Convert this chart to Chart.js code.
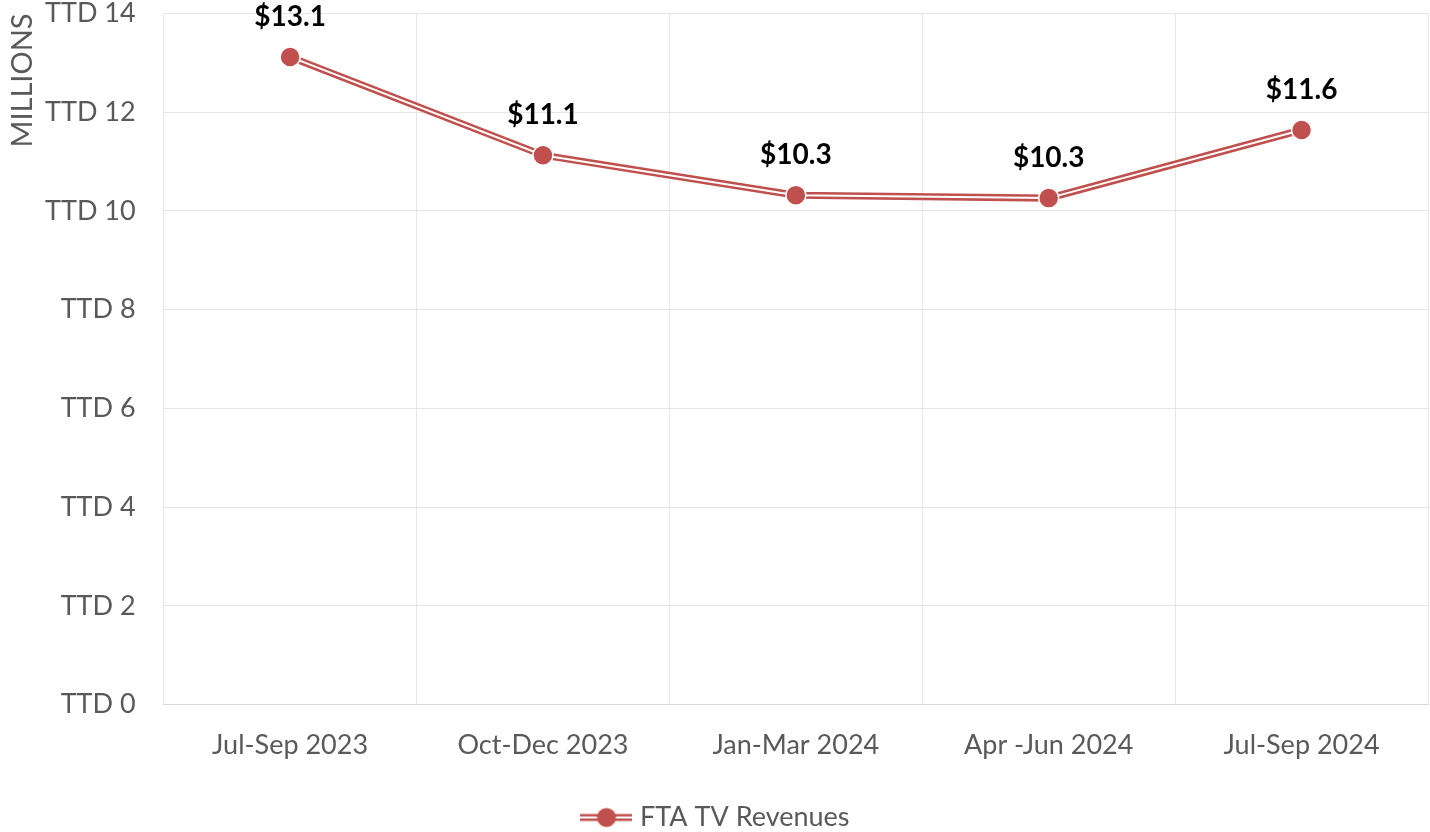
<!DOCTYPE html>
<html>
<head>
<meta charset="utf-8">
<script src="https://cdn.jsdelivr.net/npm/chart.js@4/dist/chart.umd.min.js"></script>
<style>
  html, body { margin: 0; padding: 0; background: #fff; }
  #wrap { width: 1430px; height: 832px; }
</style>
</head>
<body>
<div id="wrap"><canvas id="chart" width="1430" height="832"></canvas></div>
<script>
// data
var categories = ['Jul-Sep 2023', 'Oct-Dec 2023', 'Jan-Mar 2024', 'Apr -Jun 2024', 'Jul-Sep 2024'];
var revenues = [13.12, 11.13, 10.32, 10.26, 11.64];
var valueLabels = ['$13.1', '$11.1', '$10.3', '$10.3', '$11.6'];
var seriesName = 'FTA TV Revenues';

var red = '#C0504D';
var grey = '#595959';
var font = 'Lato, "Open Sans", sans-serif';

// legend marker: double line with a dot
function legendMarker() {
    var c = document.createElement('canvas');
    c.width = 52; c.height = 22;
    var g = c.getContext('2d');
    g.strokeStyle = red;
    g.lineWidth = 7;
    g.beginPath(); g.moveTo(0, 11); g.lineTo(52, 11); g.stroke();
    g.strokeStyle = '#fff';
    g.lineWidth = 2;
    g.beginPath(); g.moveTo(0, 11); g.lineTo(52, 11); g.stroke();
    g.fillStyle = red;
    g.beginPath(); g.arc(26, 11, 9.5, 0, Math.PI * 2); g.fill();
    return c;
}

var dataLabels = {
    id: 'dataLabels',
    afterDatasetsDraw: function(chart) {
        var ctx = chart.ctx;
        var meta = chart.getDatasetMeta(0);
        ctx.save();
        ctx.font = 'bold 28px ' + font;
        ctx.fillStyle = '#000';
        ctx.textAlign = 'center';
        ctx.textBaseline = 'middle';
        meta.data.forEach(function(pt, i) {
            ctx.fillText(valueLabels[i], pt.x, pt.y - 40);
        });
        ctx.restore();
    }
};

new Chart(document.getElementById('chart'), {
    type: 'line',
    data: {
        labels: categories,
        datasets: [
            {
                label: seriesName,
                data: revenues,
                showLine: false,
                pointRadius: 10,
                pointBackgroundColor: red,
                pointBorderColor: '#fff',
                pointBorderWidth: 1.5,
                pointStyle: 'circle',
                order: 0
            },
            {
                label: 'inner',
                data: revenues,
                borderColor: '#fff',
                borderWidth: 2,
                pointRadius: 0,
                tension: 0,
                fill: false,
                order: 1
            },
            {
                label: 'outer',
                data: revenues,
                borderColor: red,
                borderWidth: 7,
                pointRadius: 0,
                tension: 0,
                fill: false,
                order: 2
            }
        ]
    },
    plugins: [dataLabels],
    options: {
        responsive: false,
        animation: false,
        layout: { autoPadding: false, padding: { top: 0, right: 2, left: 8, bottom: -9 } },
        plugins: {
            tooltip: { enabled: false },
            legend: {
                position: 'bottom',
                labels: {
                    usePointStyle: true,
                    pointStyleWidth: 40,
                    boxHeight: 22,
                    color: grey,
                    font: { family: font, size: 27 },
                    padding: 19,
                    generateLabels: function(chart) {
                        return [{
                            text: seriesName,
                            pointStyle: legendMarker(),
                            fontColor: grey,
                            datasetIndex: 0,
                            hidden: false,
                            lineWidth: 0
                        }];
                    }
                }
            }
        },
        scales: {
            x: {
                offset: true,
                grid: { offset: true, color: '#e6e6e6', lineWidth: 1, drawTicks: false },
                border: { color: '#d9d9d9' },
                ticks: { color: grey, font: { family: font, size: 27 }, padding: 24 },
                afterFit: function(scale) {
                    scale.paddingLeft = 0;
                    scale.paddingRight = 0;
                }
            },
            y: {
                min: 0,
                max: 14,
                ticks: {
                    stepSize: 2,
                    color: grey,
                    font: { family: font, size: 27, lineHeight: 1.0 },
                    padding: 0,
                    callback: function(v) { return 'TTD ' + v; }
                },
                grid: { color: '#e6e6e6', drawTicks: true, tickLength: 28, tickColor: 'rgba(0,0,0,0)' },
                border: { display: false },
                title: {
                    display: true,
                    text: 'MILLIONS',
                    align: 'end',
                    color: grey,
                    font: { family: font, size: 29, lineHeight: 1.0 },
                    padding: { top: 0, bottom: 8 }
                }
            }
        }
    }
});
</script>
</body>
</html>
